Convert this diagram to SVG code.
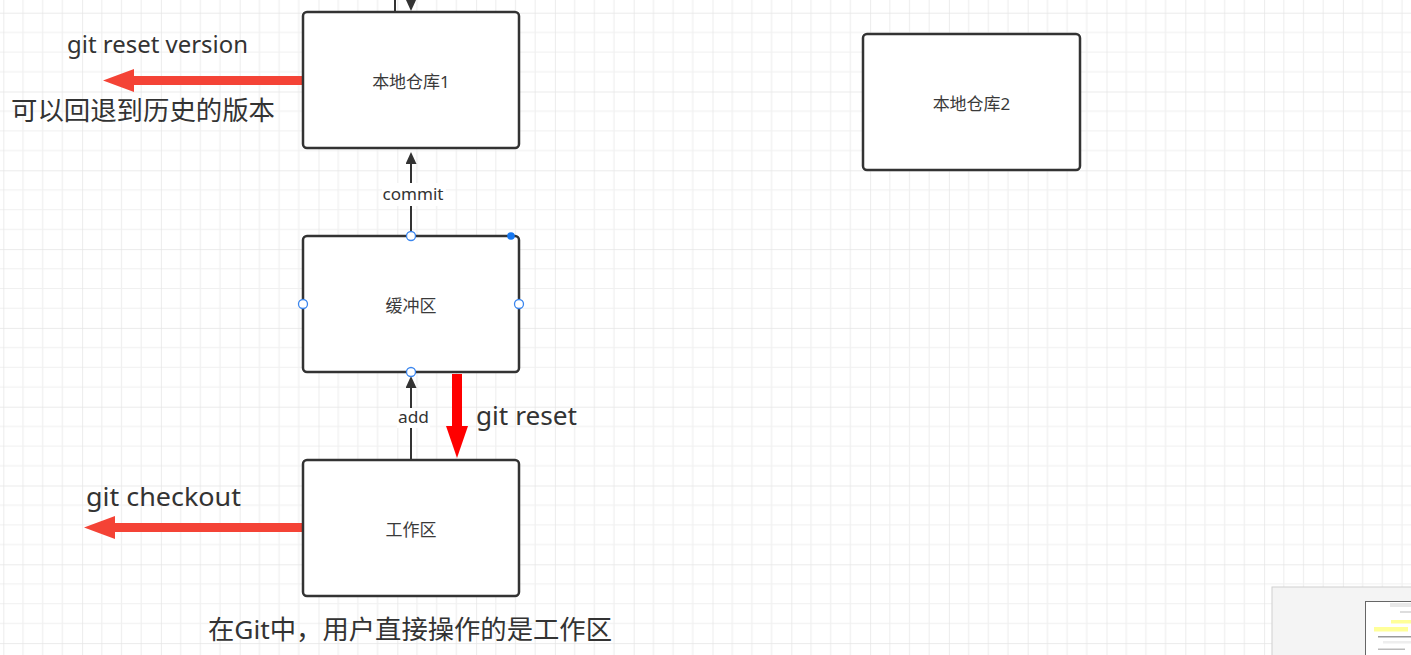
<svg xmlns="http://www.w3.org/2000/svg" width="1411" height="655" viewBox="0 0 1411 655">
  <style>
    .box { fill: #ffffff; stroke: #333333; stroke-width: 2.5; }
    .lbl { font-family: "Noto Sans", "Noto Sans CJK SC", sans-serif; font-size: 17px; fill: #3a3a3a; text-anchor: middle; dominant-baseline: central; }
    .big { font-family: "Noto Sans", "Noto Sans CJK SC", sans-serif; font-size: 26px; fill: #333333; }
    .clbl { font-family: "Noto Sans", "Noto Sans CJK SC", sans-serif; font-size: 17px; fill: #333333; text-anchor: middle; }
    .conn { stroke: #333333; stroke-width: 2; fill: none; }
    .handle { fill: #ffffff; stroke: #3b86ee; stroke-width: 1.3; }
  </style>
  <defs>
    <pattern id="grid" patternUnits="userSpaceOnUse" x="3.3" y="12.7" width="78.8" height="78.8">
      <rect width="78.8" height="78.8" fill="#ffffff"/>
      <path d="M19.7 0V78.8M39.4 0V78.8M59.1 0V78.8M0 19.7H78.8M0 39.4H78.8M0 59.1H78.8" stroke="#f0f0f0" stroke-width="1.2"/>
      <path d="M0 0V78.8M0 0H78.8" stroke="#e5e5e5" stroke-width="1.4"/>
    </pattern>
    <marker id="ah" markerUnits="userSpaceOnUse" markerWidth="12" markerHeight="11" viewBox="0 0 12 11" refX="0" refY="5.5" orient="auto">
      <path d="M0 0L12 5.5L0 11z" fill="#333333"/>
    </marker>
    <marker id="ra" markerUnits="userSpaceOnUse" markerWidth="31" markerHeight="23" viewBox="0 0 31 23" refX="0" refY="11.5" orient="auto">
      <path d="M0 0L31 11.5L0 23z" fill="#f44336"/>
    </marker>
    <marker id="rb" markerUnits="userSpaceOnUse" markerWidth="32" markerHeight="22" viewBox="0 0 32 22" refX="0" refY="11" orient="auto">
      <path d="M0 0L32 11L0 22z" fill="#ff0000"/>
    </marker>
  </defs>

  <rect x="0" y="0" width="1411" height="655" fill="url(#grid)"/>

  <g id="connectors">
    <line class="conn" x1="395" y1="-5" x2="395" y2="12"/>
    <line class="conn" x1="411" y1="-20" x2="411" y2="-1" marker-end="url(#ah)"/>
    <line class="conn" x1="411" y1="236" x2="411" y2="164" marker-end="url(#ah)"/>
    <line class="conn" x1="411" y1="460" x2="411" y2="388" marker-end="url(#ah)"/>
    <g id="commit-label">
      <rect x="382" y="183" width="64" height="23" fill="#ffffff"/>
      <text class="clbl" x="413" y="200" textLength="61" lengthAdjust="spacingAndGlyphs">commit</text>
    </g>
    <g id="add-label">
      <rect x="397" y="408" width="33" height="20" fill="#ffffff"/>
      <text class="clbl" x="413.5" y="423" textLength="31" lengthAdjust="spacingAndGlyphs">add</text>
    </g>
    <line x1="303" y1="80.5" x2="134" y2="80.5" stroke="#f44336" stroke-width="9" marker-end="url(#ra)"/>
    <line x1="303" y1="527.5" x2="115" y2="527.5" stroke="#f44336" stroke-width="9" marker-end="url(#ra)"/>
    <line x1="457" y1="374" x2="457" y2="426" stroke="#ff0000" stroke-width="10" marker-end="url(#rb)"/>
  </g>

  <g id="node-repo1">
    <rect class="box" x="303" y="12" width="216" height="136" rx="4"/>
    <text class="lbl" x="411" y="81">本地仓库1</text>
  </g>

  <g id="node-stage">
    <rect class="box" x="303" y="236" width="216" height="136" rx="4"/>
    <text class="lbl" x="411" y="305">缓冲区</text>
    <circle class="handle" cx="411" cy="236" r="4.5"/>
    <circle class="handle" cx="303" cy="304" r="4.5"/>
    <circle class="handle" cx="519" cy="304" r="4.5"/>
    <circle class="handle" cx="411" cy="372" r="4.5"/>
    <circle cx="511" cy="236" r="3.8" fill="#1677f0"/>
  </g>

  <g id="node-work">
    <rect class="box" x="303" y="460" width="216" height="136" rx="4"/>
    <text class="lbl" x="411" y="529">工作区</text>
  </g>

  <g id="node-repo2">
    <rect class="box" x="863" y="34" width="217" height="136" rx="4"/>
    <text class="lbl" x="971.5" y="103">本地仓库2</text>
  </g>

  <g id="annotations">
    <text class="big" x="67" y="53" style="font-size:24px" textLength="181" lengthAdjust="spacingAndGlyphs">git reset version</text>
    <text class="big" x="11" y="120" textLength="264" lengthAdjust="spacingAndGlyphs">可以回退到历史的版本</text>
    <text class="big" x="476" y="425" textLength="101" lengthAdjust="spacingAndGlyphs">git reset</text>
    <text class="big" x="86" y="506" textLength="155" lengthAdjust="spacingAndGlyphs">git checkout</text>
    <text class="big" x="208" y="639" textLength="404" lengthAdjust="spacingAndGlyphs">在Git中，用户直接操作的是工作区</text>
  </g>

  <g id="minimap">
    <rect x="1272" y="587" width="150" height="80" fill="#f4f4f4" stroke="#d0d0d0" stroke-width="1"/>
    <rect x="1365.5" y="601.5" width="60" height="60" fill="#ffffff" stroke="#666666" stroke-width="1"/>
    <rect x="1390" y="603" width="21" height="4" fill="#e8e8e8"/>
    <rect x="1400" y="611" width="11" height="2" fill="#dddddd"/>
    <rect x="1391" y="620" width="20" height="3.5" fill="#ffff99"/>
    <rect x="1374" y="627" width="34" height="4.5" fill="#ffff99"/>
    <rect x="1378" y="636" width="33" height="1.5" fill="#999999"/>
    <rect x="1383" y="641" width="28" height="2.5" fill="#eeeeee"/>
    <rect x="1378" y="648.5" width="27" height="1.5" fill="#bbbbbb"/>
  </g>
</svg>
